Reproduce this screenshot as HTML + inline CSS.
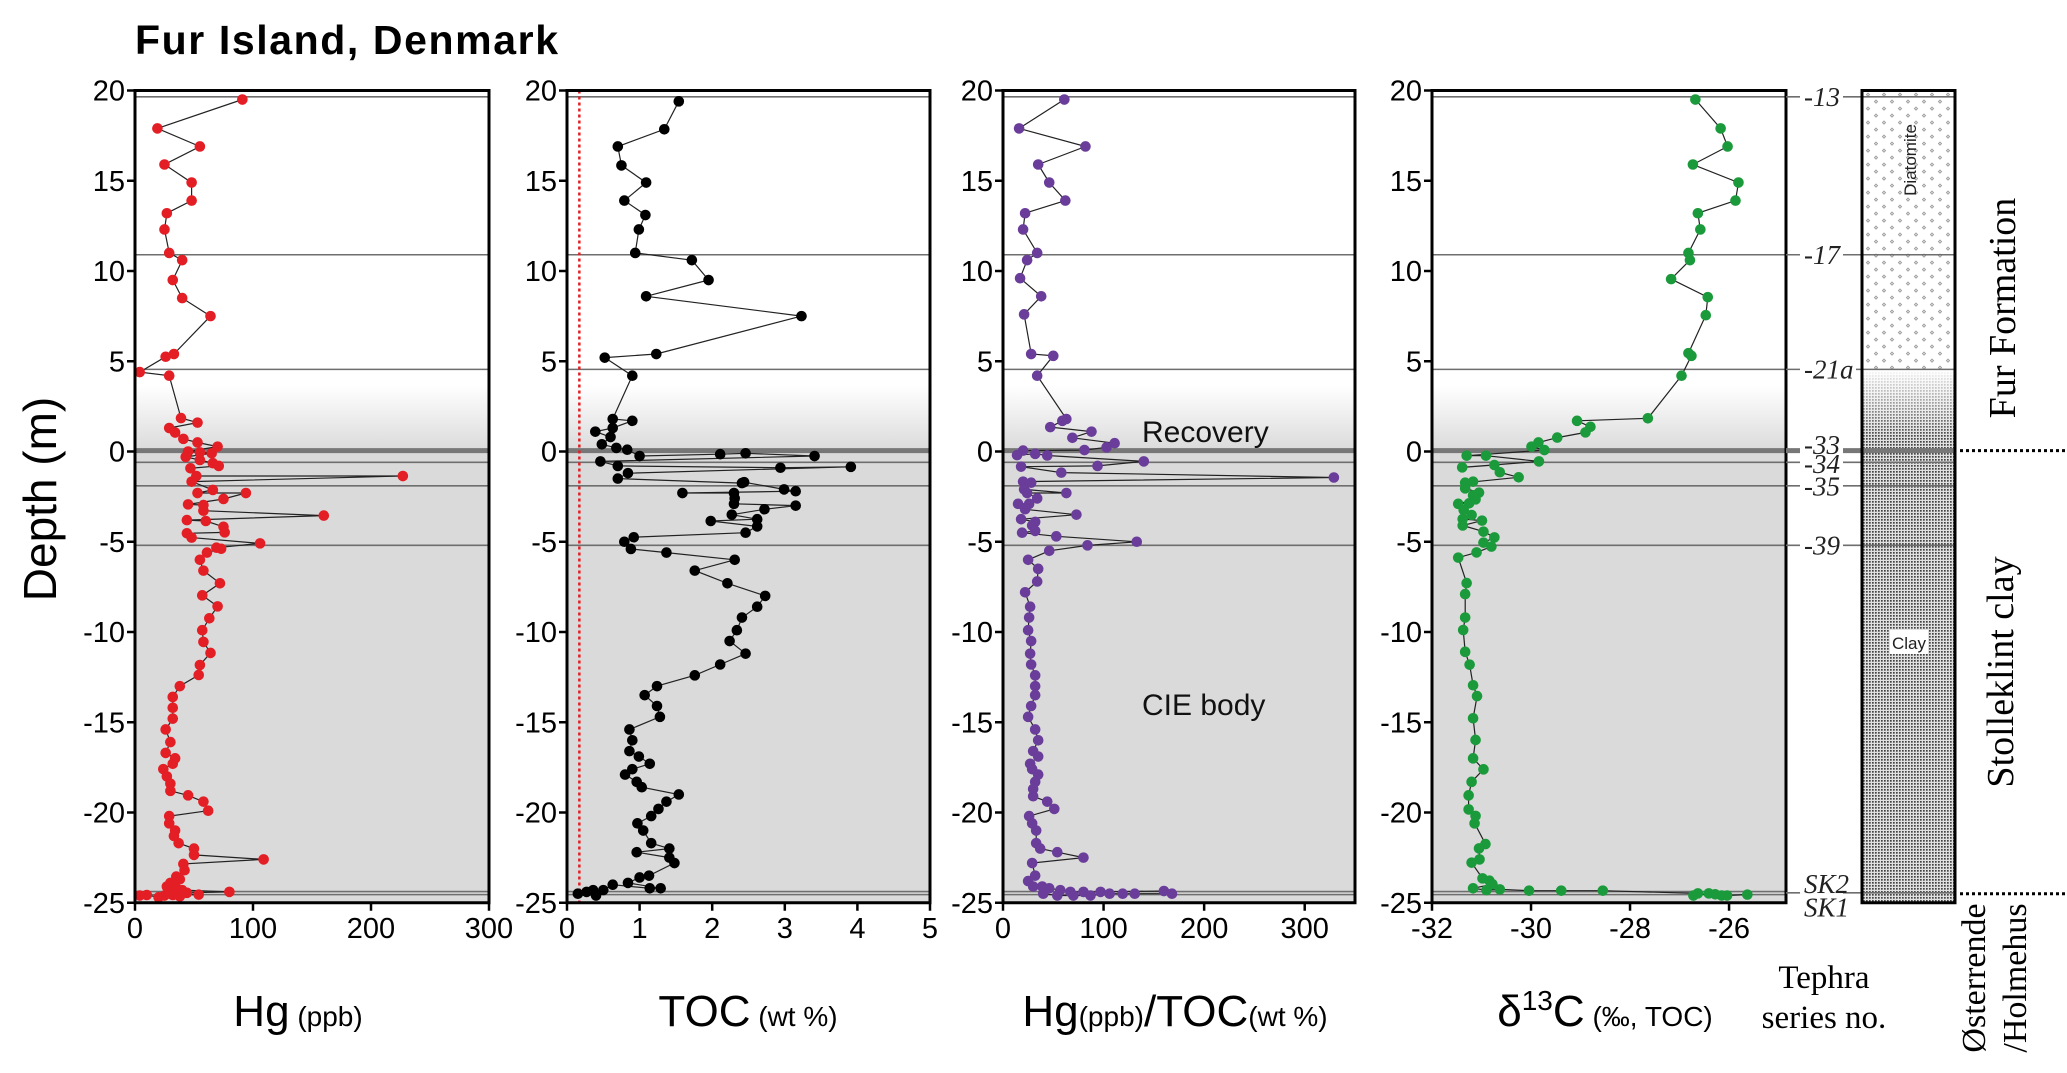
<!DOCTYPE html>
<html><head><meta charset="utf-8"><style>
html,body{margin:0;padding:0;background:#fff;}
svg{display:block;}
</style></head><body>
<svg id="chart" xmlns="http://www.w3.org/2000/svg" width="2067" height="1073" viewBox="0 0 2067 1073">
<defs>
<linearGradient id="fade" x1="0" y1="0" x2="0" y2="1">
<stop offset="0" stop-color="#ffffff"/><stop offset="0.2" stop-color="#ffffff"/><stop offset="1" stop-color="#dadada"/>
</linearGradient>
<linearGradient id="fadeW" x1="0" y1="0" x2="0" y2="1">
<stop offset="0" stop-color="#ffffff" stop-opacity="1"/><stop offset="0.15" stop-color="#ffffff" stop-opacity="0.8"/><stop offset="1" stop-color="#ffffff" stop-opacity="0"/>
</linearGradient>
<pattern id="diat" width="16" height="14" patternUnits="userSpaceOnUse">
<rect width="16" height="14" fill="#fff"/>
<path d="M4 2 l1.6 1.6 -1.6 1.6 -1.6 -1.6z M12 9 l1.6 1.6 -1.6 1.6 -1.6 -1.6z" fill="#ddd" stroke="#999" stroke-width="0.8"/>
</pattern>
<pattern id="clay" width="3" height="3" patternUnits="userSpaceOnUse">
<rect width="3" height="3" fill="#e0e0e0"/>
<rect x="0" y="0" width="1.7" height="1.7" fill="#444"/>
</pattern>
</defs>
<g id="root"></g>
</svg>
<script>
const hgDepth = [19.5,17.9,16.9,15.9,14.9,13.9,13.2,12.3,11.0,10.6,9.5,8.5,7.5,5.4,5.25,4.4,4.2,1.85,1.6,1.3,1.05,0.7,0.5,0.27,0,-0.05,-0.1,-0.3,-0.47,-0.65,-0.8,-0.93,-1.36,-1.36,-1.67,-2.13,-2.3,-2.3,-2.63,-2.93,-2.97,-3.28,-3.55,-3.8,-3.85,-4.17,-4.48,-4.53,-4.77,-5.09,-5.33,-5.39,-5.6,-6.0,-6.6,-7.3,-7.97,-8.58,-9.24,-9.9,-10.55,-11.16,-11.83,-12.38,-13.0,-13.6,-14.2,-14.8,-15.4,-16.1,-16.7,-17.0,-17.3,-17.6,-18.0,-18.4,-18.8,-19.05,-19.4,-19.9,-20.2,-20.6,-21.0,-21.3,-21.7,-22.0,-22.35,-22.6,-22.85,-23.2,-23.55,-23.7,-23.9,-24.0,-24.1,-24.2,-24.3,-24.4,-24.45,-24.5,-24.55,-24.57,-24.6,-24.65,-24.7,-24.57,-24.6];
const hgValue = [91,19,55,25,48,48,27,25,29,40,32,40,64,33,26,4,29,39,53,29,34,41,53,70,45,55,65,43,55,66,71,47,52,227,48,66,53,94,75,45,58,58,160,44,60,75,76,44,48,106,69,73,61,55,58,72,57,70,63,57,58,64,55,54,38,32,32,32,26,30,26,34,32,24,27,30,30,45,58,62,29,29,34,33,37,50,50,109,41,42,35,38,30,33,27,35,40,80,44,30,54,32,25,38,20,10,4];
const tocDepth = [19.4,17.85,16.9,15.85,14.9,13.9,13.1,12.3,11.0,10.6,9.5,8.6,7.5,5.4,5.2,4.2,1.8,1.7,1.3,1.1,0.8,0.4,0.2,0.1,-0.25,-0.15,-0.1,-0.25,-0.55,-0.8,-0.9,-0.85,-1.2,-1.5,-1.75,-1.7,-2.1,-2.2,-2.3,-2.3,-2.6,-2.9,-3.0,-3.2,-3.5,-3.75,-3.85,-4.15,-4.5,-4.75,-5.0,-5.4,-5.6,-6.0,-6.6,-7.3,-8.0,-8.6,-9.2,-9.9,-10.5,-11.2,-11.8,-12.4,-13.0,-13.5,-14.1,-14.7,-15.4,-16.0,-16.6,-16.9,-17.3,-17.6,-17.9,-18.3,-18.6,-19.0,-19.4,-19.8,-20.2,-20.6,-21.0,-21.7,-22.0,-22.2,-22.5,-22.8,-23.5,-23.6,-23.9,-24.2,-24.2,-24.0,-24.3,-24.3,-24.4,-24.5,-24.6];
const tocValue = [1.54,1.34,0.70,0.75,1.09,0.79,1.08,0.99,0.94,1.72,1.95,1.09,3.23,1.23,0.52,0.90,0.63,0.90,0.63,0.39,0.60,0.48,0.68,0.83,1.00,2.11,2.46,3.41,0.46,0.70,2.94,3.91,0.84,0.70,2.41,2.44,2.99,3.15,1.59,2.30,2.31,2.30,3.15,2.72,2.27,2.62,1.98,2.62,2.46,0.92,0.79,0.88,1.37,2.31,1.76,2.21,2.73,2.62,2.41,2.34,2.24,2.46,2.11,1.76,1.24,1.07,1.24,1.28,0.86,0.90,0.86,0.99,1.14,0.90,0.80,0.96,1.03,1.54,1.37,1.26,1.16,0.97,1.05,1.16,1.41,0.96,1.41,1.48,1.13,1.00,0.84,1.29,1.14,0.63,0.50,0.36,0.27,0.15,0.40];
const ratioDepth = [19.5,17.9,16.9,15.9,14.9,13.9,13.2,12.3,11.0,10.6,9.6,8.6,7.6,5.4,5.3,4.2,1.8,1.7,1.35,1.1,0.76,0.46,0.23,0.08,0.05,-0.2,-0.13,-0.22,-0.55,-0.8,-0.84,-1.17,-1.44,-1.67,-1.73,-2.1,-2.3,-2.3,-2.6,-2.9,-2.9,-3.2,-3.5,-3.75,-3.9,-4.1,-4.4,-4.5,-4.7,-5.0,-5.2,-5.5,-6.0,-6.5,-7.2,-7.8,-8.6,-9.2,-9.9,-10.5,-11.2,-11.8,-12.4,-13.0,-13.5,-14.1,-14.7,-15.4,-16.0,-16.6,-16.9,-17.3,-17.6,-17.9,-18.3,-18.7,-19.1,-19.4,-19.8,-20.2,-20.6,-21.0,-21.7,-22.0,-22.2,-22.5,-22.8,-23.5,-23.8,-24.1,-24.1,-24.2,-24.3,-24.4,-24.4,-24.4,-24.35,-24.5,-24.5,-24.5,-24.5,-24.6,-24.6,-24.6,-24.5];
const ratioValue = [61,16,82,35,46,62,22,20,34,24,17,38,21,28,50,34,63,59,47,88,69,111,103,81,20,14,32,44,140,94,18,58,329,20,28,21,63,24,34,26,15,22,73,18,32,29,32,19,53,133,84,46,25,35,34,22,27,26,25,28,27,28,32,32,32,28,25,32,35,30,35,27,29,35,32,30,30,44,51,26,29,33,33,37,54,80,29,32,25,30,39,46,57,67,80,97,160,168,131,119,106,87,70,54,40];
const d13cDepth = [19.5,17.9,16.9,15.9,14.9,13.9,13.2,12.3,11.0,10.6,9.55,8.55,7.55,5.45,5.3,4.2,1.84,1.7,1.37,1.06,0.77,0.5,0.27,0.08,-0.23,-0.23,-0.55,-0.88,-0.75,-1.15,-1.43,-1.73,-1.67,-2.04,-2.28,-2.43,-2.65,-2.9,-2.87,-3.24,-3.52,-3.74,-3.83,-4.1,-4.44,-4.76,-5.05,-5.27,-5.59,-5.88,-7.29,-7.9,-9.2,-9.89,-11.1,-11.81,-12.95,-13.55,-14.78,-15.98,-17.0,-17.61,-18.3,-19.05,-19.83,-20.19,-20.6,-21.75,-21.99,-22.6,-22.78,-23.65,-23.78,-23.97,-24.2,-24.3,-24.26,-24.33,-24.33,-24.33,-24.48,-24.6,-24.48,-24.53,-24.6,-24.6,-24.55];
const d13cValue = [-26.68,-26.17,-26.03,-26.73,-25.81,-25.87,-26.63,-26.58,-26.82,-26.79,-27.17,-26.43,-26.47,-26.82,-26.76,-26.96,-27.64,-29.07,-28.8,-28.9,-29.47,-29.85,-29.99,-29.73,-31.3,-30.91,-29.84,-31.39,-30.74,-30.63,-30.25,-31.33,-31.17,-31.33,-31.05,-31.17,-31.12,-31.47,-31.25,-31.36,-31.2,-31.38,-30.99,-31.38,-30.96,-30.74,-30.96,-30.8,-31.1,-31.47,-31.3,-31.33,-31.33,-31.37,-31.33,-31.24,-31.17,-31.09,-31.17,-31.12,-31.17,-30.96,-31.2,-31.26,-31.26,-31.12,-31.14,-30.92,-31.05,-31.04,-31.2,-30.98,-30.84,-30.78,-31.17,-30.9,-30.63,-30.04,-29.39,-28.55,-26.63,-26.72,-26.41,-26.28,-26.15,-26.04,-25.63];
const hgTicks = [0,100,200,300];
const tocTicks = [0,1,2,3,4,5];
const ratioTicks = [0,100,200,300];
const d13cTicks = [-32,-30,-28,-26];
const depthTicks = [20,15,10,5,0,-5,-10,-15,-20,-25];
const markerLines = [19.65,10.9,4.55,-0.6,-1.9,-5.2,-24.38,-24.55];
const tephraLabels = ["-13","-17","-21a","-33","-34","-35","-39","SK2","SK1"];
const tephraDepths = [19.65,10.9,4.55,0.35,-0.7,-1.95,-5.2,-23.95,-25.25];

const NS = "http://www.w3.org/2000/svg";
const root = document.getElementById('root');
function el(tag, attrs, parent, text){
  const e = document.createElementNS(NS, tag);
  for (const k in attrs) e.setAttribute(k, attrs[k]);
  if (text !== undefined) e.textContent = text;
  (parent || root).appendChild(e);
  return e;
}
const Y = d => 451.5 - d * 18.05;
const SANS = '"Liberation Sans", "DejaVu Sans", sans-serif';
const SERIF = '"Liberation Serif", "DejaVu Serif", serif';

const panels = [
  {key:'hg', x0:135, x1:489, min:0, max:300, ticks:hgTicks, depth:hgDepth, val:hgValue, color:'#e41e25'},
  {key:'toc', x0:567, x1:930, min:0, max:5, ticks:tocTicks, depth:tocDepth, val:tocValue, color:'#000000'},
  {key:'hg-toc', x0:1003, x1:1355, min:0, max:350, ticks:ratioTicks, depth:ratioDepth, val:ratioValue, color:'#6a3d9a'},
  {key:'d13c', x0:1432, x1:1786, min:-32, max:-24.85, ticks:d13cTicks, depth:d13cDepth, val:d13cValue, color:'#1a9a3a'}
];

const t = el('text', {x:135, y:54, 'font-family':SANS, 'font-weight':'bold', 'font-size':41, textLength:423, fill:'#000'}, root, 'Fur Island, Denmark');


const yt = el('text', {x:0, y:0, transform:'translate(56,499) rotate(-90)', 'text-anchor':'middle', 'font-family':SANS, 'font-size':46, fill:'#000'}, root, 'Depth (m)');



panels.forEach(p => {
  const g = el('g', {});
  
  
  const X = v => p.x0 + (v - p.min) / (p.max - p.min) * (p.x1 - p.x0);
  const W = p.x1 - p.x0;
  const s1 = el('rect', {x:p.x0, y:Y(4.55), width:W, height:Y(0)-Y(4.55), fill:'url(#fade)'}, g);
  
  
  const s2 = el('rect', {x:p.x0, y:Y(0), width:W, height:Y(-25)-Y(0), fill:'#dadada'}, g);
  
  
  markerLines.forEach(d => {
    const l = el('line', {x1:p.x0, x2:p.x1, y1:Y(d), y2:Y(d), stroke:'#6e6e6e', 'stroke-width':1.6}, g);
    
    
  });
  const z = el('line', {x1:p.x0, x2:p.x1, y1:Y(0.05), y2:Y(0.05), stroke:'#777', 'stroke-width':5}, g);
  
  
  if (p.key === 'toc') {
    const r = el('line', {x1:X(0.17), x2:X(0.17), y1:Y(20), y2:Y(-25), stroke:'#e41e25', 'stroke-width':2.5, 'stroke-dasharray':'3,3'}, g);
    
    
  }
  const n = Math.min(p.depth.length, p.val.length);
  let dstr = '';
  for (let i = 0; i < n; i++) dstr += (i ? 'L' : 'M') + X(p.val[i]).toFixed(1) + ' ' + Y(p.depth[i]).toFixed(1);
  const pl = el('path', {d:dstr, fill:'none', stroke:'#222', 'stroke-width':1.2}, g);
  
  
  for (let i = 0; i < n; i++) {
    const c = el('circle', {cx:X(p.val[i]), cy:Y(p.depth[i]), r:5.3, fill:p.color}, g);
    
    
  }
  const f = el('rect', {x:p.x0, y:Y(20), width:W, height:Y(-25)-Y(20), fill:'none', stroke:'#000', 'stroke-width':3}, g);
  
  
  depthTicks.forEach(d => {
    el('line', {x1:p.x0-8, x2:p.x0, y1:Y(d), y2:Y(d), stroke:'#000', 'stroke-width':2.5}, g);
    const lb = el('text', {x:p.x0-10, y:Y(d)+10, 'text-anchor':'end', 'font-family':SANS, 'font-size':29, fill:'#000'}, g, String(d));
    
    
  });
  p.ticks.forEach(v => {
    el('line', {x1:X(v), x2:X(v), y1:Y(-25), y2:Y(-25)+8, stroke:'#000', 'stroke-width':2.5}, g);
    const lb = el('text', {x:X(v), y:938, 'text-anchor':'middle', 'font-family':SANS, 'font-size':29, fill:'#000'}, g, String(v));
    
    
  });
});

function title(x, parts, name){
  const tx = el('text', {x:x, y:1026, 'text-anchor':'middle', 'font-family':SANS, fill:'#000'});
  
  
  parts.forEach(pt => {
    el('tspan', {'font-size':pt[1]}, tx, pt[0]);
  });
}
title(298, [['Hg',44],[' (ppb)',28]], 'hg-axis-title');
title(748, [['TOC',44],[' (wt %)',28]], 'toc-axis-title');
title(1175, [['Hg',44],['(ppb)',28],['/TOC',44],['(wt %)',28]], 'hg-toc-axis-title');
const dt = el('text', {x:1605, y:1026, 'text-anchor':'middle', 'font-family':SANS, fill:'#000'});


el('tspan', {'font-size':44}, dt, 'δ');
el('tspan', {'font-size':28, dy:-16}, dt, '13');
el('tspan', {'font-size':44, dy:16}, dt, 'C');
el('tspan', {'font-size':28}, dt, ' (‰, TOC)');

const rec = el('text', {x:1142, y:442, 'font-family':SANS, 'font-size':30, fill:'#111'}, root, 'Recovery');


const cie = el('text', {x:1142, y:715, 'font-family':SANS, 'font-size':30, fill:'#111'}, root, 'CIE body');



[19.65,10.9,4.55,-0.6,-1.9,-5.2,-24.45].forEach(d => {
  const l = el('line', {x1:1786, x2:1862, y1:Y(d), y2:Y(d), stroke:'#6e6e6e', 'stroke-width':1.6});
  
  
});
el('line', {x1:1786, x2:1862, y1:Y(0.05), y2:Y(0.05), stroke:'#777', 'stroke-width':5});
tephraLabels.forEach((s, i) => {
  const bg = el('rect', {x:1800, y:Y(tephraDepths[i])-10, width:s.length*13+4, height:20, fill:'#fff'});
  
  
  const lb = el('text', {x:1804, y:Y(tephraDepths[i])+9, 'font-family':SERIF, 'font-style':'italic', 'font-size':27, fill:'#222'}, root, s);
  
  
});

const sc = el('g', {});


const CX = 1862, CW = 93;
el('rect', {x:CX, y:Y(20), width:CW, height:Y(4.55)-Y(20), fill:'url(#diat)'}, sc);
el('rect', {x:CX, y:Y(4.55), width:CW, height:Y(-25)-Y(4.55), fill:'url(#clay)'}, sc);
el('rect', {x:CX, y:Y(4.55), width:CW, height:Y(0.8)-Y(4.55), fill:'url(#fadeW)'}, sc);
[19.65,10.9,4.55,-0.6,-1.9,-5.2,-24.45].forEach(d => el('line', {x1:CX, x2:CX+CW, y1:Y(d), y2:Y(d), stroke:'#6e6e6e', 'stroke-width':1.6}, sc));
el('line', {x1:CX, x2:CX+CW, y1:Y(0.05), y2:Y(0.05), stroke:'#777', 'stroke-width':5}, sc);
el('rect', {x:CX, y:Y(20), width:CW, height:Y(-25)-Y(20), fill:'none', stroke:'#000', 'stroke-width':3}, sc);
const dia = el('text', {x:0, y:0, transform:'translate(1916,160) rotate(-90)', 'text-anchor':'middle', 'font-family':SANS, 'font-size':17, fill:'#222'}, sc, 'Diatomite');


el('rect', {x:1890, y:630, width:38, height:24, fill:'#fff'}, sc);
const cl = el('text', {x:1909, y:649, 'text-anchor':'middle', 'font-family':SANS, 'font-size':17, fill:'#222'}, sc, 'Clay');



[0.05,-24.5].forEach(d => {
  const l = el('line', {x1:1960, x2:2067, y1:Y(d), y2:Y(d), stroke:'#000', 'stroke-width':3, 'stroke-dasharray':'3,3'});
  
  
});
function vtext(x, y, s, size, name){
  const e = el('text', {x:0, y:0, transform:'translate('+x+','+y+') rotate(-90)', 'text-anchor':'middle', 'font-family':SERIF, 'font-size':size, fill:'#000'}, root, s);
  
  
}
vtext(2015, 308, 'Fur Formation', 38, 'fur-formation-label');
vtext(2013, 672, 'Stolleklint clay', 38, 'stolleklint-clay-label');
vtext(1985, 978, 'Østerrende', 34, 'osterrende-label');
vtext(2026, 978, '/Holmehus', 34, 'holmehus-label');
const tp = el('text', {x:1824, y:988, 'text-anchor':'middle', 'font-family':SERIF, 'font-size':33, fill:'#000'}, root, 'Tephra');


const sn = el('text', {x:1824, y:1028, 'text-anchor':'middle', 'font-family':SERIF, 'font-size':33, fill:'#000'}, root, 'series  no.');


</script>
</body></html>
